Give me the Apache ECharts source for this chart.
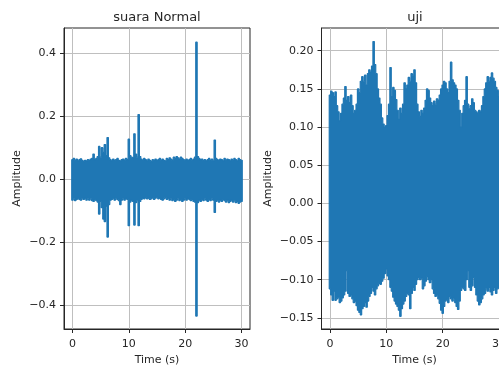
<!DOCTYPE html>
<html>
<head>
<meta charset="utf-8">
<script src="https://cdn.jsdelivr.net/npm/echarts@6/dist/echarts.min.js"></script>
<style>
  html, body { margin: 0; padding: 0; background: #fff; overflow: hidden; width: 499px; height: 371px; }
  /* the right panel runs past the window edge in the original, so the canvas is wider than the page */
  #chart { width: 512px; height: 371px; }
</style>
</head>
<body>
<div id="chart"></div>
<script>
// envelope of each recording, one value every 0.25 s from 0 to 30 s (4 values per second)
const step = 0.25;

const normalUpper = [
  0.062, 0.066, 0.060, 0.064,  0.058, 0.062, 0.065, 0.060,  0.056, 0.060, 0.058, 0.062,
  0.060, 0.064, 0.066, 0.080,  0.062, 0.066, 0.072, 0.104,  0.070, 0.100, 0.085, 0.110,
  0.075, 0.132, 0.068, 0.062,  0.058, 0.064, 0.060, 0.062,  0.066, 0.060, 0.058, 0.062,
  0.064, 0.060, 0.066, 0.062,  0.127, 0.075, 0.070, 0.068,  0.144, 0.080, 0.070, 0.205,
  0.072, 0.064, 0.060, 0.066,  0.062, 0.058, 0.064, 0.060,  0.056, 0.062, 0.060, 0.064,
  0.058, 0.062, 0.066, 0.060,  0.064, 0.060, 0.058, 0.066,  0.062, 0.068, 0.064, 0.060,
  0.070, 0.066, 0.072, 0.068,  0.064, 0.070, 0.066, 0.062,  0.060, 0.064, 0.058, 0.062,
  0.066, 0.060, 0.064, 0.070,  0.434, 0.072, 0.066, 0.062,  0.064, 0.060, 0.062, 0.058,
  0.062, 0.066, 0.060, 0.064,  0.058, 0.124, 0.066, 0.062,  0.060, 0.064, 0.062, 0.058,
  0.066, 0.060, 0.064, 0.062,  0.058, 0.064, 0.060, 0.066,  0.062, 0.058, 0.066, 0.062,
  0.060
];
const normalLower = [
  -0.066, -0.062, -0.068, -0.064,  -0.060, -0.064, -0.066, -0.062,  -0.064, -0.060, -0.066, -0.062,
  -0.066, -0.062, -0.068, -0.070,  -0.064, -0.068, -0.072, -0.110,  -0.070, -0.090, -0.126, -0.134,
  -0.085, -0.183, -0.080, -0.066,  -0.064, -0.060, -0.066, -0.062,  -0.064, -0.068, -0.080, -0.066,
  -0.062, -0.066, -0.060, -0.064,  -0.147, -0.072, -0.066, -0.070,  -0.145, -0.074, -0.068, -0.147,
  -0.070, -0.064, -0.060, -0.062,  -0.058, -0.062, -0.060, -0.064,  -0.062, -0.058, -0.064, -0.060,
  -0.056, -0.062, -0.060, -0.064,  -0.066, -0.062, -0.058, -0.064,  -0.060, -0.066, -0.062, -0.068,
  -0.064, -0.070, -0.066, -0.062,  -0.068, -0.064, -0.070, -0.066,  -0.062, -0.066, -0.060, -0.064,
  -0.068, -0.064, -0.070, -0.072,  -0.433, -0.074, -0.066, -0.070,  -0.064, -0.068, -0.062, -0.066,
  -0.070, -0.064, -0.068, -0.062,  -0.066, -0.105, -0.070, -0.068,  -0.072, -0.066, -0.070, -0.064,
  -0.068, -0.072, -0.066, -0.074,  -0.070, -0.066, -0.072, -0.068,  -0.074, -0.070, -0.076, -0.072,
  -0.070
];

const ujiUpper = [
  0.142, 0.147, 0.145, 0.140,  0.146, 0.128, 0.120, 0.108,  0.118, 0.130, 0.138, 0.153,
  0.135, 0.140, 0.132, 0.142,  0.128, 0.118, 0.122, 0.130,  0.150, 0.145, 0.160, 0.166,
  0.160, 0.168, 0.155, 0.170,  0.175, 0.172, 0.180, 0.212,  0.182, 0.170, 0.150, 0.138,
  0.130, 0.112, 0.104, 0.100,  0.102, 0.115, 0.130, 0.178,  0.140, 0.152, 0.148, 0.136,
  0.122, 0.110, 0.125, 0.118,  0.130, 0.158, 0.150, 0.155,  0.165, 0.160, 0.170, 0.168,
  0.175, 0.158, 0.130, 0.120,  0.114, 0.122, 0.118, 0.125,  0.135, 0.150, 0.148, 0.138,
  0.132, 0.128, 0.134, 0.130,  0.137, 0.135, 0.142, 0.150,  0.155, 0.160, 0.158, 0.150,
  0.145, 0.160, 0.185, 0.162,  0.158, 0.155, 0.150, 0.135,  0.122, 0.100, 0.118, 0.128,
  0.135, 0.166, 0.130, 0.124,  0.128, 0.137, 0.132, 0.122,  0.120, 0.118, 0.122, 0.120,
  0.128, 0.140, 0.150, 0.158,  0.166, 0.160, 0.165, 0.171,  0.164, 0.160, 0.152, 0.148,
  0.140
];
const ujiLower = [
  -0.112, -0.120, -0.127, -0.115,  -0.127, -0.125, -0.123, -0.130,  -0.128, -0.124, -0.120, -0.115,
  -0.088, -0.118, -0.122, -0.120,  -0.125, -0.130, -0.128, -0.134,  -0.140, -0.143, -0.146, -0.138,
  -0.135, -0.130, -0.136, -0.128,  -0.122, -0.118, -0.110, -0.115,  -0.120, -0.112, -0.108, -0.105,
  -0.106, -0.102, -0.098, -0.092,  -0.086, -0.095, -0.100, -0.110,  -0.115, -0.123, -0.128, -0.132,
  -0.135, -0.140, -0.148, -0.138,  -0.132, -0.128, -0.122, -0.118,  -0.120, -0.138, -0.118, -0.110,
  -0.114, -0.106, -0.100, -0.097,  -0.100, -0.098, -0.112, -0.108,  -0.102, -0.096, -0.100, -0.104,
  -0.100, -0.112, -0.118, -0.122,  -0.120, -0.125, -0.131, -0.140,  -0.144, -0.135, -0.128, -0.126,
  -0.130, -0.122, -0.125, -0.128,  -0.124, -0.130, -0.135, -0.139,  -0.128, -0.114, -0.110, -0.112,
  -0.114, -0.100, -0.088, -0.110,  -0.114, -0.108, -0.097, -0.110,  -0.120, -0.128, -0.133, -0.130,
  -0.125, -0.120, -0.118, -0.112,  -0.115, -0.110, -0.116, -0.120,  -0.114, -0.110, -0.118, -0.112,
  -0.110
];

const timeTicks = [0, 10, 20, 30];
const normalTicks = [-0.4, -0.2, 0, 0.2, 0.4];
const ujiTicks = [-0.15, -0.10, -0.05, 0, 0.05, 0.10, 0.15, 0.20];

const BLUE = '#1f77b4';
const INK = '#262626';
const GRID = '#bfbfbf';
const FONT = 'DejaVu Sans';

const toBand = (upper, lower) => upper.map((u, i) => [i * step, lower[i], u]);

const fmt = (digits) => (v) => (v < 0 ? '\u2212' : '') + Math.abs(v).toFixed(digits);

// the whole envelope is drawn as one outline: along the upper edge, then back along the lower edge
function bandItem(params, api) {
    if (params.dataIndexInside !== 0) return null;
    const n = params.dataInsideLength;
    const top = [];
    const bottom = [];
    for (let j = 0; j < n; j++) {
        const t = api.value(0, j);
        const lo = api.value(1, j);
        const hi = api.value(2, j);
        top.push(api.coord([t - step / 2, hi]), api.coord([t + step / 2, hi]));
        bottom.push(api.coord([t - step / 2, lo]), api.coord([t + step / 2, lo]));
    }
    return {
        type: 'polygon',
        shape: { points: top.concat(bottom.reverse()) },
        style: { fill: BLUE, stroke: BLUE, lineWidth: 1.2, lineJoin: 'bevel' }
    };
}

function xAxisFor(idx) {
    return {
        gridIndex: idx,
        type: 'value',
        min: -1.5,
        max: 31.5,
        axisLine: { show: true, onZero: false, lineStyle: { color: INK, width: 1 } },
        axisTick: { show: true, length: 4, customValues: timeTicks, lineStyle: { color: INK } },
        axisLabel: { customValues: timeTicks, color: INK, fontSize: 11, fontFamily: FONT, margin: 10 },
        splitLine: { show: true, lineStyle: { color: GRID, width: 1 } },
        name: 'Time (s)',
        nameLocation: 'middle',
        nameGap: 26,
        nameTextStyle: { color: INK, fontSize: 11, fontFamily: FONT }
    };
}

function yAxisFor(idx, min, max, ticks, digits, gap) {
    return {
        gridIndex: idx,
        type: 'value',
        min: min,
        max: max,
        axisLine: { show: true, onZero: false, lineStyle: { color: INK, width: 1 } },
        axisTick: { show: true, length: 4, customValues: ticks, lineStyle: { color: INK } },
        axisLabel: { customValues: ticks, color: INK, fontSize: 11, fontFamily: FONT, margin: 8, formatter: fmt(digits) },
        splitLine: { show: true, lineStyle: { color: GRID, width: 1 } },
        name: 'Amplitude',
        nameLocation: 'middle',
        nameGap: gap,
        nameTextStyle: { color: INK, fontSize: 11, fontFamily: FONT }
    };
}

const option = {
    animation: false,
    backgroundColor: '#fff',
    title: [
        { text: 'suara Normal', left: 157, top: 11, padding: 0, textAlign: 'center',
          textStyle: { color: INK, fontSize: 13, fontWeight: 'normal', fontFamily: FONT } },
        { text: 'uji', left: 415, top: 11, padding: 0, textAlign: 'center',
          textStyle: { color: INK, fontSize: 13, fontWeight: 'normal', fontFamily: FONT } }
    ],
    grid: [
        { left: 64, top: 28, width: 186, height: 305, show: true, borderColor: INK, borderWidth: 1, backgroundColor: 'transparent' },
        { left: 321.5, top: 28, width: 186, height: 305, show: true, borderColor: INK, borderWidth: 1, backgroundColor: 'transparent' }
    ],
    xAxis: [xAxisFor(0), xAxisFor(1)],
    yAxis: [
        yAxisFor(0, -0.474, 0.479, normalTicks, 1, 41),
        yAxisFor(1, -0.1646, 0.2298, ujiTicks, 2, 48)
    ],
    series: [
        { type: 'custom', xAxisIndex: 0, yAxisIndex: 0, renderItem: bandItem, silent: true,
          encode: { x: 0, y: [1, 2] }, data: toBand(normalUpper, normalLower) },
        { type: 'custom', xAxisIndex: 1, yAxisIndex: 1, renderItem: bandItem, silent: true,
          encode: { x: 0, y: [1, 2] }, data: toBand(ujiUpper, ujiLower) }
    ]
};

const chart = echarts.init(document.getElementById('chart'));
chart.setOption(option);
</script>
</body>
</html>
